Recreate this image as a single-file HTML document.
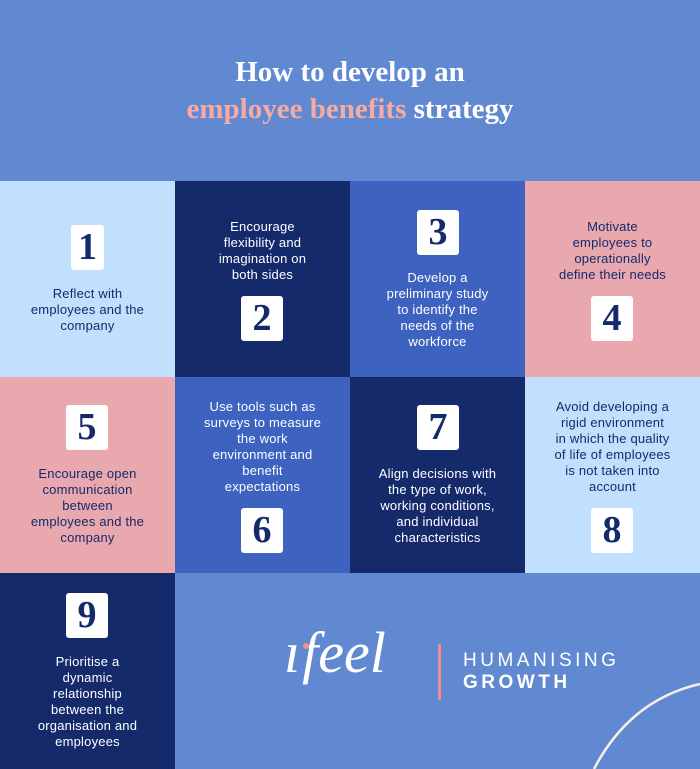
<!DOCTYPE html>
<html><head><style>
body{margin:0;width:700px;height:769px;position:relative;overflow:hidden;background:#6189d2;font-family:"Liberation Sans",sans-serif}
.c{position:absolute;width:175px;height:196px}
.t{position:absolute;left:0;width:175px;text-align:center;font-size:13px;line-height:16px;letter-spacing:0.2px}
.b{position:absolute;background:#fff;border-radius:3px;color:#142a6b;font-family:"Liberation Serif",serif;font-weight:bold;font-size:38px;text-align:center;line-height:45px;height:45px}
.lb{background:#c0e0fd}.dk{background:#142a6b}.md{background:#3d62c0}.pk{background:#e9a7ae}
.lb .t,.pk .t{color:#142a6b}.dk .t,.md .t{color:#fff}
</style></head><body>
<div style="position:absolute;top:54px;width:700px;text-align:center;color:#fff;font-family:'Liberation Serif',serif;font-weight:bold;font-size:29px;line-height:37px">How to develop an<br><span style="color:#f5aaa2">employee benefits</span> strategy</div>

<div class="c lb" style="left:0;top:181px"><div class="b" style="left:71px;top:44px;width:33px">1</div><div class="t" style="top:105px">Reflect with<br>employees and the<br>company</div></div>
<div class="c dk" style="left:175px;top:181px"><div class="t" style="top:38px">Encourage<br>flexibility and<br>imagination on<br>both sides</div><div class="b" style="left:66px;top:115px;width:42px">2</div></div>
<div class="c md" style="left:350px;top:181px"><div class="b" style="left:67px;top:29px;width:42px">3</div><div class="t" style="top:89px">Develop a<br>preliminary study<br>to identify the<br>needs of the<br>workforce</div></div>
<div class="c pk" style="left:525px;top:181px"><div class="t" style="top:38px">Motivate<br>employees to<br>operationally<br>define their needs</div><div class="b" style="left:66px;top:115px;width:42px">4</div></div>

<div class="c pk" style="left:0;top:377px"><div class="b" style="left:66px;top:28px;width:42px">5</div><div class="t" style="top:89px">Encourage open<br>communication<br>between<br>employees and the<br>company</div></div>
<div class="c md" style="left:175px;top:377px"><div class="t" style="top:22px">Use tools such as<br>surveys to measure<br>the work<br>environment and<br>benefit<br>expectations</div><div class="b" style="left:66px;top:131px;width:42px">6</div></div>
<div class="c dk" style="left:350px;top:377px"><div class="b" style="left:67px;top:28px;width:42px">7</div><div class="t" style="top:89px">Align decisions with<br>the type of work,<br>working conditions,<br>and individual<br>characteristics</div></div>
<div class="c lb" style="left:525px;top:377px"><div class="t" style="top:22px">Avoid developing a<br>rigid environment<br>in which the quality<br>of life of employees<br>is not taken into<br>account</div><div class="b" style="left:66px;top:131px;width:42px">8</div></div>

<div class="c dk" style="left:0;top:573px"><div class="b" style="left:66px;top:20px;width:42px">9</div><div class="t" style="top:81px">Prioritise a<br>dynamic<br>relationship<br>between the<br>organisation and<br>employees</div></div>

<div style="position:absolute;left:284px;top:618px;color:#fff;font-family:'Liberation Serif',serif;font-style:italic;font-size:58px;line-height:70px">ı<span style="margin-left:2px">feel</span></div>
<div style="position:absolute;left:303px;top:643px;width:6px;height:6px;border-radius:50%;background:#ef8f8c"></div>
<div style="position:absolute;left:438px;top:644px;width:3px;height:56px;background:#ef8f8c"></div>
<div style="position:absolute;left:463px;top:650px;color:#fff;font-size:19px;letter-spacing:3.5px;line-height:22px">HUMANISING<br><b>GROWTH</b></div>
<svg style="position:absolute;left:0;top:0" width="700" height="769"><path d="M594 769 Q630 700 700 684" fill="none" stroke="#fbeee8" stroke-width="2.5"/></svg>
</body></html>
